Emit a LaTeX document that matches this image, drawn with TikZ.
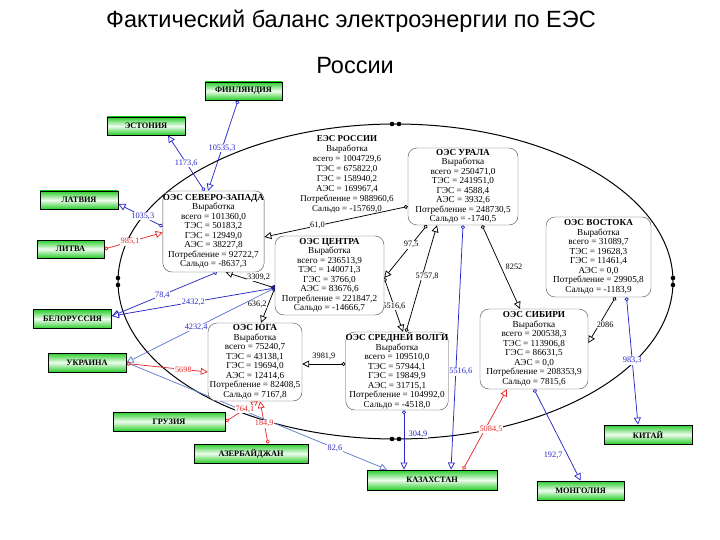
\documentclass[tikz,border=0pt]{standalone}
\usepackage{fontspec}
\setmainfont{Liberation Serif}
\newfontfamily\headfont{Liberation Sans}
\usetikzlibrary{arrows.meta,positioning}
\definecolor{landgreen}{RGB}{40,205,40}
\definecolor{flowblue}{RGB}{40,40,200}
\definecolor{paleblue}{RGB}{95,125,205}
\definecolor{flowred}{RGB}{230,45,45}
\pgfdeclarelayer{back}
\pgfsetlayers{back,main}

\begin{document}
\begin{tikzpicture}[x=1pt,y=-1pt,
 oes/.style={draw=black!70,rounded corners=9pt,fill=white,align=center,inner sep=0pt,font=\fontsize{9.2}{9.5}\selectfont},
 land/.style={draw=black,line width=.9pt,top color=landgreen,bottom color=landgreen,middle color=landgreen!8,inner sep=0pt,font=\bfseries\fontsize{8.3}{9}\selectfont},
 flow/.style={line width=.75pt,arrows={Circle[open,length=4pt,fill=white]-Triangle[open,length=7pt,width=7pt,fill=white]}},
 num/.style={fill=white,inner sep=.6pt,font=\fontsize{8.3}{9}\selectfont}]
\useasboundingbox (0,0) rectangle (720,540);
\node[font=\headfont\fontsize{23.5}{26}\selectfont] (title) at (351,21) {Фактический баланс электроэнергии по ЕЭС};
\node[font=\headfont\fontsize{23.5}{26}\selectfont] (title2) at (355,66) {России};
\node[align=center,font=\fontsize{9}{10}\selectfont] (ees) at (347,174) {\textbf{ЕЭС РОССИИ}\\Выработка\\всего = 1004729,6\\ТЭС = 675822,0\\ГЭС = 158940,2\\АЭС = 169967,4\\Потребление = 988960,6\\Сальдо = -15769,0};
\node[oes,minimum width=101pt,minimum height=81pt] (sz) at (213.5,231.5) {\textbf{ОЭС СЕВЕРО-ЗАПАДА}\\Выработка\\всего = 101360,0\\ТЭС = 50183,2\\ГЭС = 12949,0\\АЭС = 38227,8\\Потребление = 92722,7\\Сальдо = -8637,3};
\node[oes,minimum width=109pt,minimum height=79pt] (centr) at (329.5,275.5) {\textbf{ОЭС ЦЕНТРА}\\Выработка\\всего = 236513,9\\ТЭС = 140071,3\\ГЭС = 3766,0\\АЭС = 83676,6\\Потребление = 221847,2\\Сальдо = -14666,7};
\node[oes,minimum width=110pt,minimum height=77pt] (ural) at (463,186.5) {\textbf{ОЭС УРАЛА}\\Выработка\\всего = 250471,0\\ТЭС = 241951,0\\ГЭС = 4588,4\\АЭС = 3932,6\\Потребление = 248730,5\\Сальдо = -1740,5};
\node[oes,minimum width=105pt,minimum height=80pt] (vostok) at (598.5,257) {\textbf{ОЭС ВОСТОКА}\\Выработка\\всего = 31089,7\\ТЭС = 19628,3\\ГЭС = 11461,4\\АЭС = 0,0\\Потребление = 29905,8\\Сальдо = -1183,9};
\node[oes,minimum width=94pt,minimum height=78pt] (yug) at (255,362) {\textbf{ОЭС ЮГА}\\Выработка\\всего = 75240,7\\ТЭС = 43138,1\\ГЭС = 19694,0\\АЭС = 12414,6\\Потребление = 82408,5\\Сальдо = 7167,8};
\node[oes,minimum width=102pt,minimum height=78pt] (volga) at (397,371) {\textbf{ОЭС СРЕДНЕЙ ВОЛГИ}\\Выработка\\всего = 109510,0\\ТЭС = 57944,1\\ГЭС = 19849,9\\АЭС = 31715,1\\Потребление = 104992,0\\Сальдо = -4518,0};
\node[oes,minimum width=108pt,minimum height=80pt] (sib) at (534,349) {\textbf{ОЭС СИБИРИ}\\Выработка\\всего = 200538,3\\ТЭС = 113906,8\\ГЭС = 86631,5\\АЭС = 0,0\\Потребление = 208353,9\\Сальдо = 7815,6};
\node[land,minimum width=77pt,minimum height=18pt] (fin) at (243.5,91) {ФИНЛЯНДИЯ};
\node[land,minimum width=78pt,minimum height=18pt] (est) at (146,126) {ЭСТОНИЯ};
\node[land,minimum width=78pt,minimum height=18pt] (lat) at (79,200) {ЛАТВИЯ};
\node[land,minimum width=67pt,minimum height=18pt] (lit) at (70.5,249) {ЛИТВА};
\node[land,minimum width=78pt,minimum height=19pt] (bel) at (72.5,319) {БЕЛОРУССИЯ};
\node[land,minimum width=78pt,minimum height=19pt] (ukr) at (87,362.5) {УКРАИНА};
\node[land,minimum width=112pt,minimum height=19pt] (gruz) at (169,421.5) {ГРУЗИЯ};
\node[land,minimum width=114pt,minimum height=19pt] (aze) at (251,453.5) {АЗЕРБАЙДЖАН};
\node[land,minimum width=130pt,minimum height=20pt] (kaz) at (432,480) {КАЗАХСТАН};
\node[land,minimum width=87pt,minimum height=19pt] (mong) at (580.5,490.5) {МОНГОЛИЯ};
\node[land,minimum width=88pt,minimum height=19pt] (china) at (648,434.5) {КИТАЙ};
\coordinate (knot) at ([yshift=-12.5pt]centr.west);
\begin{pgfonlayer}{back}
\draw[line width=1pt] (395.5,281.5) ellipse [x radius=277.5pt,y radius=157.5pt];
\foreach \p in {(392,124),(399,124),(118,278),(118,285),(673,278),(673,285),(392,439),(399,439)}
 \fill \p circle [radius=2.3pt];
\draw[flow,flowblue] ([xshift=-5.5pt]fin.south) -- ([xshift=-5.5pt]sz.north) node[num,pos=.53,text=flowblue] {10535,3};
\draw[flow,flowblue] ([xshift=-9pt]sz.north) -- ([xshift=22pt]est.south) node[num,pos=.5,text=flowblue] {1173,6};
\draw[flow,flowblue] ([yshift=5pt]sz.west) -- ([yshift=-4pt]lat.east) node[num,pos=.45,text=flowblue] {1035,3};
\draw[flow,flowred] (lit.east) -- ([yshift=-1pt]sz.west) node[num,pos=.44,text=flowred] {985,1};
\draw[flow,flowblue] ([xshift=3.5pt]sz.south) -- ([yshift=3pt]bel.east) node[num,pos=.52,text=flowblue] {78,4};
\draw[flow,flowblue] (knot) -- ([yshift=3pt]bel.east) node[num,pos=.5,text=flowblue] {2432,2};
\draw[flow] (knot) -- ([xshift=12pt]sz.south) node[num,pos=.33,above=1pt] {3309,2};
\draw[flow] (knot) -- ([xshift=6pt]yug.north) node[num,pos=.46,left=1pt] {636,2};
\draw[flow,paleblue] (knot) -- (ukr.east) node[num,pos=.53,text=flowblue] {4232,4};
\draw[flow,paleblue] (ukr.east) -- ([xshift=-45pt]kaz.north) node[num,pos=.8,text=flowblue] {82,6};
\draw[flow,flowred] ([yshift=-1pt]ukr.east) -- ([yshift=-10pt]yug.west) node[num,pos=.7,text=flowred] {5698};
\draw[flow,flowred] (gruz.east) -- ([xshift=3pt]yug.south) node[num,pos=.6,text=flowred] {764,1};
\draw[flow,flowred] ([xshift=17pt]aze.north) -- ([xshift=5pt]yug.south) node[num,pos=.47,text=flowred] {184,9};
\draw[flow] ([yshift=7pt]volga.west) -- ([yshift=-2pt]yug.east) node[num,pos=.5,above=3pt] {3981,9};
\draw[flow] ([yshift=-2.5pt]centr.east) -- ([xshift=6pt]volga.north) node[num,pos=.52] {5516,6};
\draw[flow] ([xshift=-36pt]ural.south) -- ([yshift=-2.5pt]centr.east) node[num,pos=.37] {97,5};
\draw[flow] ([xshift=9pt]volga.north) -- ([xshift=-26pt]ural.south) node[num,pos=.52,xshift=5pt] {5757,8};
\draw[flow,flowblue] (ural.south) -- ([xshift=19pt]kaz.north) node[num,pos=.6,xshift=5pt,text=flowblue] {5516,6};
\draw[flow] ([xshift=19pt]ural.south) -- ([xshift=-14pt]sib.north) node[num,pos=.5,xshift=13pt] {8252};
\draw[flow] ([xshift=17pt]vostok.south) -- ([yshift=6pt]sib.east) node[num,pos=.6,xshift=6pt] {2086};
\draw[flow,flowblue] ([xshift=28pt]vostok.south) -- ([xshift=-10pt]china.north) node[num,pos=.5,text=flowblue] {983,3};
\draw[flow,flowblue] (sib.south) -- (mong.north) node[num,pos=.72,left=4pt,text=flowblue] {192,7};
\draw[flow,flowred] ([xshift=31pt]kaz.north) -- ([xshift=-27pt]sib.south) node[num,pos=.5,xshift=6pt,text=flowred] {5084,5};
\draw[flow,flowblue] ([xshift=7pt]volga.south) -- ([xshift=-28pt]kaz.north) node[num,pos=.4,xshift=14pt,text=flowblue] {304,9};
\draw[flow] ([yshift=-20pt]ural.west) -- ([yshift=-5.5pt]sz.east) node[num,pos=.63] {61,0};
\fill[flowblue!70!black] (knot) circle [radius=3pt];
\end{pgfonlayer}
\end{tikzpicture}
\end{document}
